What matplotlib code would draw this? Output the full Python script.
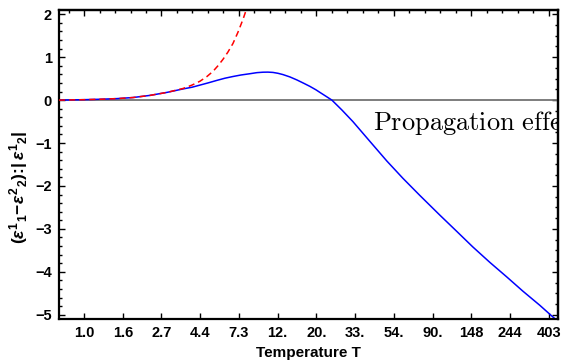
import matplotlib
matplotlib.use("Agg")
import matplotlib.pyplot as plt
from matplotlib.ticker import MultipleLocator

plt.rcParams['font.family'] = ['Liberation Sans', 'DejaVu Sans']
plt.rcParams['mathtext.fontset'] = 'custom'
plt.rcParams['mathtext.rm'] = 'Liberation Sans:bold'
plt.rcParams['mathtext.it'] = 'Liberation Sans:italic:bold'
plt.rcParams['mathtext.bf'] = 'Liberation Sans:bold'

# x is ln(T)
blue_x = [-0.323, 0.0, 0.206, 0.426, 0.632, 0.852, 1.071, 1.277, 1.394, 1.497,
          1.600, 1.716, 1.819, 1.923, 2.026, 2.142, 2.232, 2.310, 2.374, 2.439,
          2.503, 2.568, 2.658, 2.748, 2.839, 2.916, 2.994, 3.045, 3.123, 3.200,
          3.329, 3.471, 3.690, 3.910, 4.116, 4.335, 4.594, 4.813, 5.019, 5.239,
          5.458, 5.665, 5.884, 6.039, 6.142]
blue_y = [0.0, 0.01, 0.02, 0.035, 0.06, 0.11, 0.18, 0.26, 0.30, 0.35,
          0.40, 0.46, 0.51, 0.55, 0.585, 0.615, 0.64, 0.65, 0.652, 0.645,
          0.625, 0.595, 0.54, 0.47, 0.39, 0.32, 0.24, 0.18, 0.09, 0.0,
          -0.23, -0.50, -0.96, -1.42, -1.82, -2.22, -2.68, -3.06, -3.42, -3.78,
          -4.12, -4.45, -4.78, -5.03, -5.19]

red_x = [-0.323, 0.0, 0.206, 0.426, 0.632, 0.852, 1.071, 1.277, 1.394, 1.497,
         1.587, 1.665, 1.729, 1.794, 1.858, 1.923, 1.987, 2.052, 2.103, 2.168]
red_y = [0.0, 0.01, 0.02, 0.035, 0.06, 0.11, 0.18, 0.27, 0.35, 0.44,
         0.55, 0.67, 0.80, 0.95, 1.12, 1.32, 1.58, 1.88, 2.15, 2.5]

xtick_pos = [0.0, 0.5, 1.0, 1.5, 2.0, 2.5, 3.0, 3.5, 4.0, 4.5, 5.0, 5.5, 6.0]
xtick_labels = ['1.0', '1.6', '2.7', '4.4', '7.3', '12.', '20.', '33.', '54.',
                '90.', '148', '244', '403']
ytick_pos = [2, 1, 0, -1, -2, -3, -4, -5]
ytick_labels = ['2', '1', '0', '\u22121', '\u22122', '\u22123', '\u22124', '\u22125']

fig = plt.figure(figsize=(5.62, 3.64), dpi=100)
ax = fig.add_axes([0.105, 0.1236, 0.888, 0.849])

ax.axhline(0, color='0.45', lw=1.3, zorder=1)
ax.plot(blue_x, blue_y, color='blue', lw=1.1, zorder=2)
ax.plot(red_x, red_y, color='red', lw=1.1, dashes=(4.0, 2.6), zorder=3)

ax.set_xlim(-0.323, 6.12)
ax.set_ylim(-5.1, 2.1)

ax.set_xticks(xtick_pos)
ax.set_xticklabels(xtick_labels, fontweight='bold', fontsize=10.5)
ax.set_yticks(ytick_pos)
ax.set_yticklabels(ytick_labels, fontweight='bold', fontsize=10.5)
ax.yaxis.set_minor_locator(MultipleLocator(0.2))
ax.tick_params(axis='x', which='both', direction='in', length=4, width=1, pad=5,
               top=False)
ax.tick_params(axis='y', which='major', direction='in', length=4, width=1, pad=5,
               right=False)
ax.tick_params(axis='y', which='minor', direction='in', length=2, width=1,
               right=False)

top = ax.secondary_xaxis('top')
top.xaxis.set_major_locator(MultipleLocator(1))
top.xaxis.set_minor_locator(MultipleLocator(0.2))
top.tick_params(which='major', direction='in', length=4, width=1, labeltop=False)
top.tick_params(which='minor', direction='in', length=2, width=1)
top.spines['top'].set_linewidth(1.6)

right = ax.secondary_yaxis('right')
right.yaxis.set_major_locator(MultipleLocator(1))
right.yaxis.set_minor_locator(MultipleLocator(0.25))
right.tick_params(which='major', direction='in', length=4, width=1, labelright=False)
right.tick_params(which='minor', direction='in', length=2, width=1)
right.spines['right'].set_linewidth(1.6)

for s in ax.spines.values():
    s.set_linewidth(1.6)

ax.set_xlabel('Temperature T', fontweight='bold', fontsize=11, labelpad=4)
ax.set_ylabel(r'$(\varepsilon^{1}{}_{1}\!-\!\varepsilon^{2}{}_{2})\!:\!|\,\varepsilon^{1}{}_{2}|$',
              fontsize=12.5)
ax.yaxis.set_label_coords(-0.058, 0.427)

ax.text(3.733, -0.70, r'$\mathrm{Propagation\ effects}$', math_fontfamily='cm',
        fontsize=19, va='baseline', ha='left', clip_on=True, zorder=4)

fig.savefig('out.png', dpi=100)
